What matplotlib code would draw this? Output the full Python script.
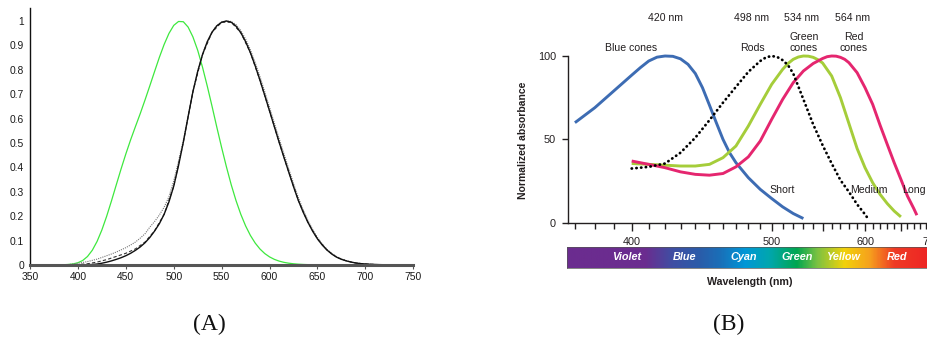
import numpy as np
import matplotlib.pyplot as plt
from matplotlib.colors import LinearSegmentedColormap

W, H = 928, 338

# ---- panel A: luminous efficiency curves ----
wl_a = np.arange(380, 755, 5)
scotopic = [0.000589, 0.001108, 0.002209, 0.00453, 0.00929, 0.01852, 0.03484, 0.0604,
            0.0966, 0.1436, 0.1998, 0.2625, 0.3281, 0.3931, 0.455, 0.513, 0.567, 0.62,
            0.676, 0.734, 0.793, 0.851, 0.904, 0.949, 0.982, 0.998, 0.997, 0.975, 0.935,
            0.88, 0.811, 0.733, 0.65, 0.564, 0.481, 0.402, 0.3288, 0.2639, 0.2076, 0.1602,
            0.1212, 0.0899, 0.0655, 0.0469, 0.03315, 0.02312, 0.01593, 0.01088, 0.00737,
            0.00497, 0.003335, 0.002235, 0.001497, 0.001005, 0.000677, 0.000459, 0.000313,
            0.000215, 0.000148, 0.000103, 0.000072, 0.00005, 0.000035, 0.000025, 0.000018,
            0, 0, 0, 0, 0, 0, 0, 0, 0, 0]
photopic = [0.000039, 0.000064, 0.00012, 0.000217, 0.000396, 0.00064, 0.00121, 0.00218,
            0.004, 0.0073, 0.0116, 0.01684, 0.023, 0.0298, 0.038, 0.048, 0.06, 0.0739,
            0.09098, 0.1126, 0.13902, 0.1693, 0.20802, 0.2586, 0.323, 0.4073, 0.503, 0.6082,
            0.71, 0.7932, 0.862, 0.91485, 0.954, 0.9803, 0.99495, 1.0, 0.995, 0.9786, 0.952,
            0.9154, 0.87, 0.8163, 0.757, 0.6949, 0.631, 0.5668, 0.503, 0.4412, 0.381, 0.321,
            0.265, 0.217, 0.175, 0.1382, 0.107, 0.0816, 0.061, 0.04458, 0.032, 0.0232, 0.017,
            0.01192, 0.00821, 0.005723, 0.004102, 0.002929, 0.002091, 0.001484, 0.001047,
            0.00074, 0.00052, 0.000361, 0.000249, 0.000172, 0.00012]
modified = [0.0005, 0.001, 0.002, 0.004, 0.007, 0.0105, 0.014, 0.019, 0.024, 0.031, 0.038,
            0.045, 0.053, 0.062, 0.071, 0.082, 0.094, 0.11, 0.128, 0.155, 0.178, 0.205,
            0.237, 0.28, 0.345, 0.425, 0.51, 0.61, 0.71, 0.795, 0.864, 0.917, 0.956, 0.982,
            0.996, 1.0, 0.998, 0.985, 0.961, 0.926, 0.882, 0.83, 0.772, 0.71, 0.646, 0.582,
            0.518, 0.456, 0.395, 0.334, 0.277, 0.227, 0.183, 0.145, 0.113, 0.086, 0.064,
            0.047, 0.034, 0.0245, 0.0178, 0.0125, 0.0086, 0.006, 0.0043, 0.0031, 0.0022,
            0.0016, 0.0011, 0.00078, 0.00055, 0.00038, 0.00026, 0.00018, 0.00013]
wl_dash = np.arange(380, 760, 10)
dashed = [0.0002, 0.0007, 0.002, 0.005, 0.012, 0.022, 0.035, 0.048, 0.066, 0.094, 0.14,
          0.208, 0.323, 0.503, 0.71, 0.862, 0.954, 0.995, 0.995, 0.952, 0.87, 0.757,
          0.631, 0.503, 0.381, 0.265, 0.175, 0.107, 0.061, 0.032, 0.017, 0.0082, 0.0041,
          0.0021, 0.00105, 0.00052, 0.00025, 0.00012]

# ---- panel B: normalized cone / rod absorbance ----
blue_wl = [370, 380, 390, 400, 405, 410, 415, 420, 425, 430, 435, 440, 445, 450, 455, 460,
           465, 470, 480, 490, 500, 510, 520, 530]
blue_val = [60, 69, 79, 88.5, 93, 97, 99.3, 100, 99.8, 98.3, 95, 89.5, 81, 70.5, 60, 50,
            42, 36, 27, 20, 14.5, 9.5, 5.5, 2.5]
rod_wl = [400, 410, 420, 430, 440, 450, 460, 470, 480, 490, 495, 500, 505, 510, 515, 520,
          530, 540, 550, 560, 570, 580, 590, 600, 603]
rod_val = [32.5, 33.5, 35.5, 42, 51, 61.5, 72, 81.5, 90.5, 97, 99.2, 100, 99.4, 97.5, 94.5,
           89.5, 74, 59, 46.5, 35.5, 25.5, 18.5, 11, 5, 3]
green_wl = [400, 410, 420, 430, 440, 450, 460, 470, 480, 490, 500, 510, 515, 520, 525, 530,
            535, 540, 545, 550, 560, 570, 580, 590, 600, 610, 620, 630, 640, 650]
green_val = [35.5, 35, 34.5, 34, 34, 35, 39, 46, 58, 71, 83, 92, 95.5, 98, 99.4, 100,
             99.9, 99.2, 97.8, 95.8, 88, 75, 59.5, 44.5, 33, 24, 17, 11.5, 7, 3.5]
red_wl = [400, 410, 420, 430, 440, 450, 460, 470, 480, 490, 500, 510, 520, 530, 540, 550,
          555, 560, 565, 570, 575, 580, 590, 600, 610, 620, 630, 640, 650, 660, 670, 675]
red_val = [37, 35, 33, 30.5, 29, 28.5, 29.5, 33.5, 39.5, 49, 62, 74, 84, 91, 95.5, 98.5,
           99.6, 100, 99.9, 99.2, 98, 96, 90, 81, 71, 58.5, 47, 36, 26, 16, 8.5, 4.5]

peak_labels = ['420 nm', '498 nm', '534 nm', '564 nm']
curve_labels = ['Blue cones', 'Rods', 'Green\ncones', 'Red\ncones']
class_labels = ['Short', 'Medium', 'Long']
band_labels = ['Violet', 'Blue', 'Cyan', 'Green', 'Yellow', 'Red']


def fx(px):
    return px / W


def fy(py):
    return 1 - py / H


plt.rcParams['font.family'] = ['Liberation Sans', 'DejaVu Sans']
fig = plt.figure(figsize=(W / 100, H / 100), dpi=100)

# ---------------- panel A ----------------
axa = fig.add_axes([fx(30), fy(265), fx(413.3) - fx(30), fy(8.3) - fy(265)])
axa.plot(wl_a, scotopic, color='#3ee83e', lw=0.9)
axa.plot(wl_a, modified, color='#777777', lw=0.8, ls=(0, (1, 1)))
axa.plot(wl_dash, dashed, color='#333333', lw=0.8, ls=(0, (3, 2)))
axa.plot(wl_a, photopic, color='#111111', lw=1.0)
axa.set_xlim(350, 750)
axa.set_ylim(0, 1.052)
axa.set_xticks(np.arange(350, 751, 50))
axa.set_yticks(np.arange(0, 1.01, 0.1))
axa.set_yticklabels(['%g' % round(v, 1) for v in np.arange(0, 1.01, 0.1)])
for s in ['top', 'right']:
    axa.spines[s].set_visible(False)
axa.spines['bottom'].set_color('#555555')
axa.spines['bottom'].set_linewidth(2.2)
axa.spines['left'].set_color('#111111')
axa.spines['left'].set_linewidth(1.0)
axa.tick_params(axis='x', direction='out', length=3, width=0.8, color='#555555',
                labelsize=7.4, pad=2.2, labelcolor='#1a1a1a')
axa.tick_params(axis='y', length=0, labelsize=7.4, pad=4.2, labelcolor='#1a1a1a')

# ---------------- panel B ----------------
def fwd(x):
    with np.errstate(divide='ignore', invalid='ignore'):
        return -1.0 / np.asarray(x, dtype=float)


def inv(u):
    with np.errstate(divide='ignore', invalid='ignore'):
        return -1.0 / np.asarray(u, dtype=float)


x_left_px, x_right_px = 567.7, 942.8
axb = fig.add_axes([fx(x_left_px), fy(222.7), fx(x_right_px) - fx(x_left_px), fy(56) - fy(222.7)])
axb.set_xscale('function', functions=(fwd, inv))
axb.set_xlim(366.5, 720)
axb.set_ylim(0, 100)
lw = 2.1
axb.plot(blue_wl, blue_val, color='#3d6cb3', lw=lw, solid_capstyle='butt',
         solid_joinstyle='round', clip_on=False)
axb.plot(green_wl, green_val, color='#a5cd3a', lw=lw, solid_capstyle='butt',
         solid_joinstyle='round', clip_on=False)
axb.plot(red_wl, red_val, color='#e5266f', lw=lw, solid_capstyle='butt',
         solid_joinstyle='round', clip_on=False)
axb.plot(rod_wl, rod_val, color='black', lw=2.0, ls=(0, (0.1, 1.6)),
         dash_capstyle='round', clip_on=False)

axb.set_xticks([400, 500, 550, 600, 650, 700])
axb.set_xticklabels(['400', '500', '', '600', '', '700'])
axb.set_xticks([w for w in range(370, 711, 10) if w not in (400, 500, 550, 600, 650, 700)],
               minor=True)
axb.xaxis.set_minor_formatter(plt.NullFormatter())
axb.set_yticks([0, 50, 100])
for s in ['top', 'right']:
    axb.spines[s].set_visible(False)
for s in ['left', 'bottom']:
    axb.spines[s].set_color('#231f20')
    axb.spines[s].set_linewidth(1.0)
axb.tick_params(axis='x', which='major', direction='out', length=5.5, width=1.0,
                color='#231f20', labelsize=7.8, pad=4.5, labelcolor='#231f20')
axb.tick_params(axis='x', which='minor', direction='out', length=4, width=1.0,
                color='#231f20')
axb.tick_params(axis='y', direction='out', length=4, width=1.0, color='#231f20',
                labelsize=7.8, pad=4.5, labelcolor='#231f20')

fig.text(fx(523.3), fy(140.8), 'Normalized absorbance', rotation=90, ha='center',
         va='center', fontsize=7.5, fontweight='bold', color='#231f20')

txt = dict(fontsize=7.6, color='#231f20', ha='center', va='center')
for lab, px in zip(peak_labels, [665.7, 751.7, 801.7, 852.3]):
    fig.text(fx(px), fy(18.3), lab, **txt)
for lab, px, py in zip(curve_labels, [630.7, 752.3, 804, 854], [48.3, 48.3, 42.2, 42.2]):
    fig.text(fx(px), fy(py), lab, linespacing=1.15, **txt)
for lab, px in zip(class_labels, [781.7, 869, 914.3]):
    fig.text(fx(px), fy(190), lab, **txt)

# spectrum bar
bar_l, bar_r = 567.3, 945.0
stops_px = [567.3, 645, 672, 700, 720, 745, 770, 797, 818, 845, 870, 895, 945]
stops_col = ['#6b2c8f', '#6b2c8f', '#3f4ea3', '#2a5ca9', '#1a6fb8', '#0097d7', '#00a7ad',
             '#00a651', '#7cc242', '#f2d20a', '#f6a21d', '#ef3a25', '#ed1c24']
cmap = LinearSegmentedColormap.from_list(
    'spec', [((p - bar_l) / (bar_r - bar_l), c) for p, c in zip(stops_px, stops_col)])
axs = fig.add_axes([fx(bar_l), fy(268), fx(bar_r) - fx(bar_l), fy(247.3) - fy(268)])
axs.imshow(np.linspace(0, 1, 600)[None, :], cmap=cmap, aspect='auto', extent=[0, 1, 0, 1])
axs.set_xticks([])
axs.set_yticks([])
for s in axs.spines.values():
    s.set_color('#555555')
    s.set_linewidth(0.5)
for lab, px in zip(band_labels, [626.7, 684.5, 743.3, 796.7, 843.3, 896.7]):
    fig.text(fx(px), fy(257.3), lab, fontsize=7.8, fontweight='bold', fontstyle='italic',
             color='white', ha='center', va='center')

fig.text(fx(749.3), fy(281.7), 'Wavelength (nm)', fontsize=7.7, fontweight='bold',
         color='#231f20', ha='center', va='center')

# captions
for lab, px in zip(['(A)', '(B)'], [209, 729]):
    fig.text(fx(px), fy(324), lab, fontsize=17, family='Liberation Serif',
             color='#111111', ha='center', va='center')

fig.savefig('out.png', dpi=100)
